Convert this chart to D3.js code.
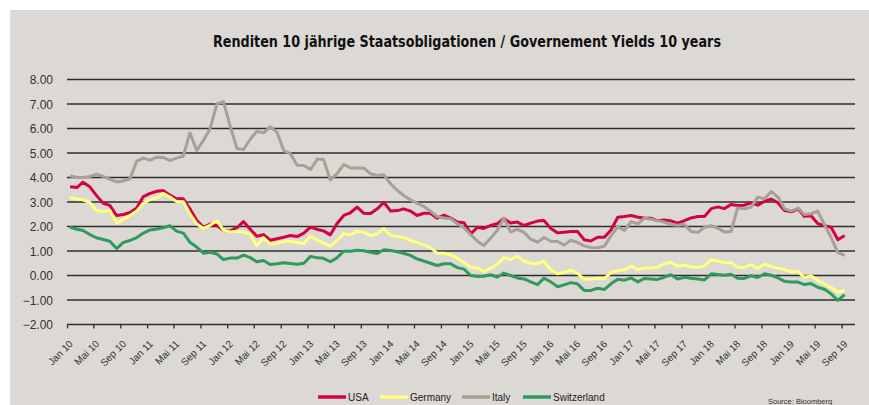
<!DOCTYPE html>
<html>
<head>
<meta charset="utf-8">
<script src="https://cdn.jsdelivr.net/npm/d3@7"></script>
<style>
  body { margin: 0; background: #fff; }
  svg { display: block; }
</style>
</head>
<body>
<div id="chart"></div>
<script>
// monthly yields, Jan 2010 .. Sep 2019
let usa = [3.62,3.59,3.81,3.62,3.27,2.95,2.86,2.45,2.49,2.57,2.76,3.22,
  3.35,3.44,3.47,3.28,3.13,3.13,2.72,2.25,1.97,2.10,2.04,1.84,
  1.82,1.95,2.20,1.89,1.60,1.67,1.44,1.50,1.56,1.63,1.59,1.73,
  1.97,1.88,1.82,1.66,2.11,2.45,2.56,2.79,2.54,2.53,2.72,2.99,
  2.63,2.65,2.72,2.63,2.45,2.54,2.54,2.34,2.46,2.34,2.18,2.15,
  1.70,1.97,1.92,2.04,2.11,2.33,2.14,2.18,2.04,2.14,2.22,2.24,
  1.92,1.74,1.77,1.80,1.80,1.46,1.41,1.56,1.56,1.86,2.38,2.41,
  2.45,2.38,2.35,2.34,2.24,2.27,2.23,2.14,2.24,2.35,2.41,2.41,
  2.73,2.80,2.73,2.90,2.86,2.87,2.97,2.87,3.03,3.12,2.97,2.65,
  2.60,2.72,2.42,2.44,2.12,2.03,1.97,1.46,1.63]

let germany = [3.17,3.12,3.09,2.98,2.65,2.60,2.65,2.14,2.29,2.45,2.63,2.95,
  3.10,3.17,3.35,3.20,3.02,3.01,2.52,2.11,1.92,2.05,2.24,1.85,
  1.78,1.81,1.77,1.67,1.22,1.54,1.28,1.31,1.40,1.40,1.36,1.31,
  1.62,1.43,1.32,1.20,1.43,1.71,1.65,1.82,1.76,1.63,1.70,1.92,
  1.63,1.59,1.55,1.43,1.35,1.25,1.14,0.91,0.91,0.85,0.70,0.53,
  0.34,0.30,0.16,0.29,0.45,0.73,0.65,0.79,0.59,0.50,0.48,0.59,
  0.23,0.07,0.12,0.22,0.10,-0.16,-0.14,-0.11,-0.12,0.12,0.20,0.23,
  0.39,0.23,0.31,0.31,0.34,0.48,0.53,0.38,0.42,0.34,0.34,0.39,
  0.64,0.59,0.52,0.52,0.34,0.33,0.44,0.29,0.46,0.37,0.30,0.24,
  0.14,0.16,-0.08,-0.01,-0.20,-0.34,-0.49,-0.69,-0.61]

let italy = [4.07,4.00,4.00,4.04,4.14,4.04,3.93,3.82,3.86,3.95,4.67,4.79,
  4.71,4.83,4.82,4.69,4.79,4.87,5.82,5.10,5.52,5.99,7.00,7.10,
  6.08,5.18,5.14,5.56,5.89,5.82,6.07,5.85,5.10,4.97,4.50,4.49,
  4.33,4.75,4.74,3.90,4.15,4.53,4.39,4.39,4.38,4.15,4.08,4.11,
  3.74,3.47,3.27,3.09,2.95,2.82,2.63,2.41,2.35,2.32,2.11,1.95,
  1.66,1.40,1.22,1.52,1.84,2.34,1.78,1.88,1.76,1.48,1.36,1.55,
  1.40,1.39,1.24,1.44,1.35,1.21,1.14,1.13,1.20,1.62,1.99,1.84,
  2.20,2.11,2.34,2.30,2.24,2.18,2.08,2.05,2.08,1.80,1.76,1.97,
  2.03,1.93,1.78,1.80,2.76,2.72,2.79,3.20,3.13,3.43,3.20,2.72,
  2.63,2.75,2.49,2.52,2.63,2.07,1.56,0.93,0.82]

let switzerland = [1.97,1.89,1.84,1.67,1.54,1.47,1.40,1.10,1.35,1.43,1.55,1.73,
  1.86,1.90,1.95,2.03,1.81,1.73,1.36,1.16,0.91,0.95,0.88,0.65,
  0.71,0.71,0.83,0.73,0.56,0.61,0.45,0.48,0.52,0.49,0.46,0.50,
  0.78,0.72,0.70,0.56,0.72,0.99,0.99,1.03,1.01,0.95,0.90,1.05,
  1.02,0.97,0.91,0.82,0.68,0.59,0.50,0.41,0.48,0.48,0.32,0.26,
  0.00,-0.04,-0.03,0.03,-0.07,0.10,0.00,-0.10,-0.14,-0.26,-0.37,-0.11,
  -0.26,-0.46,-0.38,-0.29,-0.34,-0.61,-0.61,-0.52,-0.57,-0.34,-0.15,-0.19,
  -0.10,-0.26,-0.12,-0.14,-0.16,-0.07,0.03,-0.14,-0.07,-0.11,-0.14,-0.18,
  0.07,0.04,0.01,0.05,-0.11,-0.12,-0.01,-0.08,0.07,0.01,-0.10,-0.24,
  -0.27,-0.27,-0.37,-0.33,-0.48,-0.56,-0.75,-1.02,-0.78]

let seriesNames = ["USA", "Germany", "Italy", "Switzerland"]
let seriesColors = ["#d4033f", "#ffff80", "#a89f95", "#2e9a5e"]
let yTicks = [-2, -1, 0, 1, 2, 3, 4, 5, 6, 7, 8]
let monthNames = {0: "Jan", 4: "Mai", 8: "Sep"}

let w = 869, h = 405;
let padLeft = 67, padRight = 855, padTop = 79.5, padBottom = 324.5;

let svg = d3.select("#chart").append("svg").attr("width", w).attr("height", h);

svg.append("rect").attr("x", 10).attr("y", 10).attr("width", w - 10).attr("height", h - 10)
    .attr("fill", "#dcd9d5");

svg.append("text")
    .attr("x", 467).attr("y", 47)
    .attr("text-anchor", "middle")
    .attr("font-family", "'Liberation Sans Narrow', 'DejaVu Sans Condensed', sans-serif")
    .attr("font-weight", "bold")
    .attr("font-size", 15)
    .attr("textLength", 508).attr("lengthAdjust", "spacingAndGlyphs")
    .attr("fill", "#111")
    .text("Renditen 10 jährige Staatsobligationen / Governement Yields 10 years");

let months = d3.timeMonth.range(new Date(2010, 0, 1), new Date(2019, 9, 1));
let dates = months.map(d => d3.timeDay.offset(d, 14));

let xScale = d3.scaleTime().domain([new Date(2010, 0, 1), new Date(2019, 10, 1)]).range([padLeft, padRight]);
let yScale = d3.scaleLinear().domain([-2, 8]).range([padBottom, padTop]);

// gridlines
svg.append("g").selectAll("line").data(yTicks).enter().append("line")
    .attr("x1", padLeft).attr("x2", padRight)
    .attr("y1", d => yScale(d)).attr("y2", d => yScale(d))
    .attr("stroke", "#2e2e2e").attr("stroke-width", 1.3);

// y labels
svg.append("g").selectAll("text").data(yTicks).enter().append("text")
    .attr("x", 53).attr("y", d => yScale(d) + 4.5)
    .attr("text-anchor", "end")
    .attr("font-family", "'Liberation Sans', Arial, sans-serif")
    .attr("font-size", 12)
    .attr("fill", "#333")
    .text(d => d3.format(".2f")(d));

// x axis
let xTicks = d3.timeMonth.every(4).range(new Date(2010, 0, 1), new Date(2019, 9, 1));
let xAxis = d3.axisBottom(xScale)
    .tickValues(xTicks)
    .tickSize(4)
    .tickFormat(d => monthNames[d.getMonth()] + " " + d3.timeFormat("%y")(d));

let gx = svg.append("g").attr("transform", "translate(0," + padBottom + ")").call(xAxis);
gx.select(".domain").remove();
gx.selectAll(".tick line").attr("stroke", "#2e2e2e").attr("stroke-width", 1.3);
gx.selectAll(".tick text")
    .attr("font-family", "'Liberation Sans', Arial, sans-serif")
    .attr("font-size", 10)
    .attr("fill", "#333")
    .attr("text-anchor", "end")
    .attr("dy", null)
    .attr("y", 0)
    .attr("transform", "translate(6,20) rotate(-45)");

// lines
let allSeries = [usa, germany, italy, switzerland];
let line = d3.line()
    .x((d, i) => xScale(dates[i]))
    .y(d => yScale(d));

svg.append("g").selectAll("path").data(allSeries).enter().append("path")
    .attr("d", d => line(d))
    .attr("fill", "none")
    .attr("stroke", (d, i) => seriesColors[i])
    .attr("stroke-width", 3)
    .attr("stroke-linejoin", "round");

// legend
let legendX = [318, 380, 462, 523];
let legend = svg.append("g").selectAll("g").data(seriesNames).enter().append("g")
    .attr("transform", (d, i) => "translate(" + legendX[i] + ",397)");
legend.append("line").attr("x1", 0).attr("x2", 28).attr("y1", 0).attr("y2", 0)
    .attr("stroke", (d, i) => seriesColors[i]).attr("stroke-width", 3.5);
legend.append("text").attr("x", 30).attr("y", 4)
    .attr("font-family", "'Liberation Sans', Arial, sans-serif")
    .attr("font-size", 10).attr("fill", "#222")
    .text(d => d);

svg.append("text").attr("x", 768).attr("y", 403.5)
    .attr("font-family", "'Liberation Sans', Arial, sans-serif")
    .attr("font-size", 7.5).attr("fill", "#333")
    .text("Source: Bloomberg");
</script>
</body>
</html>
